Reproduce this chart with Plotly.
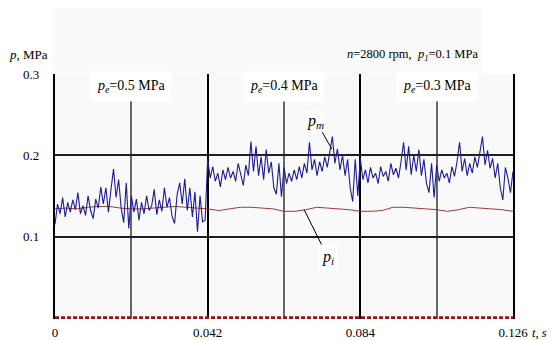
import numpy as np
import plotly.graph_objects as go

# ---------------- data ----------------
T_STEP_PM = 0.0007   # sampling step of p_m trace (s)
T_STEP_PI = 0.003    # sampling step of p_i trace (s)

p_m = [
    # 0 .. 0.042 s  (p_e = 0.5 MPa)
    0.115, 0.140, 0.128, 0.148, 0.124, 0.142, 0.130, 0.145, 0.133, 0.154,
    0.128, 0.138, 0.126, 0.150, 0.132, 0.122, 0.146, 0.135, 0.161, 0.140,
    0.160, 0.130, 0.158, 0.183, 0.148, 0.170, 0.135, 0.117, 0.166, 0.110,
    0.150, 0.130, 0.146, 0.120, 0.142, 0.128, 0.150, 0.132, 0.138, 0.158,
    0.127, 0.145, 0.131, 0.160, 0.136, 0.148, 0.125, 0.116, 0.152, 0.166,
    0.140, 0.171, 0.132, 0.160, 0.124, 0.155, 0.106, 0.150, 0.118, 0.120,
    # 0.042 .. 0.084 s  (p_e = 0.4 MPa)
    0.195, 0.172, 0.186, 0.168, 0.178, 0.161, 0.182, 0.170, 0.185, 0.172,
    0.180, 0.168, 0.190, 0.175, 0.163, 0.188, 0.175, 0.217, 0.180, 0.211,
    0.175, 0.198, 0.170, 0.207, 0.178, 0.192, 0.160, 0.152, 0.190, 0.149,
    0.185, 0.165, 0.178, 0.168, 0.182, 0.170, 0.186, 0.172, 0.190, 0.178,
    0.216, 0.182, 0.195, 0.175, 0.192, 0.180, 0.198, 0.185, 0.205, 0.223,
    0.190, 0.208, 0.182, 0.200, 0.175, 0.195, 0.160, 0.143, 0.195, 0.150,
    # 0.084 .. 0.126 s  (p_e = 0.3 MPa)
    0.196, 0.170, 0.182, 0.166, 0.185, 0.172, 0.178, 0.165, 0.186, 0.174,
    0.180, 0.168, 0.190, 0.176, 0.184, 0.172, 0.192, 0.216, 0.182, 0.211,
    0.176, 0.200, 0.180, 0.207, 0.175, 0.195, 0.165, 0.154, 0.190, 0.148,
    0.188, 0.168, 0.182, 0.172, 0.178, 0.166, 0.186, 0.174, 0.192, 0.216,
    0.180, 0.196, 0.175, 0.190, 0.178, 0.198, 0.185, 0.205, 0.223, 0.188,
    0.206, 0.184, 0.196, 0.172, 0.190, 0.160, 0.145, 0.185, 0.172, 0.154,
    0.180,
]

p_i = [
    0.134, 0.135, 0.134, 0.136, 0.137, 0.137, 0.135, 0.134, 0.134, 0.135,
    0.136, 0.137, 0.136, 0.135, 0.134,
    0.132, 0.134, 0.136, 0.136, 0.135, 0.134, 0.131, 0.131, 0.133, 0.136,
    0.135, 0.134, 0.133, 0.131,
    0.131, 0.132, 0.136, 0.136, 0.135, 0.134, 0.133, 0.131, 0.133, 0.136,
    0.135, 0.134, 0.133, 0.131,
]

p_base = [0.0, 0.0]          # dashed reference line at p = 0
t_base = [0.0, 0.126]

x_ticks = [0, 0.042, 0.084, 0.126]
x_tick_labels = ["0", "0.042", "0.084", "0.126"]
x_minor = [0.021, 0.063, 0.105]
y_ticks = [0.1, 0.2, 0.3]
y_tick_labels = ["0.1", "0.2", "0.3"]

sections = [(0.021, "0.5"), (0.063, "0.4"), (0.105, "0.3")]

t_m = np.arange(len(p_m)) * T_STEP_PM
t_i = np.arange(len(p_i)) * T_STEP_PI

FONT = "'Liberation Serif', 'Times New Roman', serif"

fig = go.Figure()
fig.add_trace(go.Scatter(x=t_base, y=p_base, mode="lines",
                         line=dict(color="#a01010", width=3, dash="4px,2px"),
                         hoverinfo="skip"))
fig.add_trace(go.Scatter(x=t_i, y=p_i, mode="lines",
                         line=dict(color="#a03a3a", width=1)))
fig.add_trace(go.Scatter(x=t_m, y=p_m, mode="lines",
                         line=dict(color="#1c1c96", width=1.1)))

# page body has an 8px default margin -> figure is 548x332 placed at (8,8)
fig.update_layout(
    width=548, height=332,
    margin=dict(l=47, r=43, t=66, b=21),
    paper_bgcolor="white",
    plot_bgcolor="#f9f9f9",
    showlegend=False,
    font=dict(family=FONT, size=13, color="black"),
)

fig.update_xaxes(
    range=[0, 0.126],
    tickvals=x_ticks, ticktext=x_tick_labels,
    showgrid=True, gridcolor="black", gridwidth=1.5,
    minor=dict(tickvals=x_minor, showgrid=True, gridcolor="#666666", gridwidth=1.5),
    zeroline=False, showline=False, ticks="", ticklabelstandoff=4,
    automargin=False,
    tickfont=dict(family=FONT, size=13),
)
fig.update_yaxes(
    range=[-0.0015, 0.3],
    tickvals=y_ticks, showticklabels=False,
    showgrid=True, gridcolor="#202020", gridwidth=1.5,
    zeroline=False, showline=True, linecolor="black", linewidth=1.5, mirror=True,
    ticks="", automargin=False,
)

# faint panel above the plot
fig.add_shape(type="rect", xref="paper", yref="paper",
              x0=-0.006, x1=0.934, y0=1.0, y1=1.35,
              fillcolor="#fafafa", line=dict(width=0), layer="below")

anns = []
# y tick labels placed to the left of the axis
for yv, lab in zip(y_ticks, y_tick_labels):
    anns.append(dict(x=-0.030, y=yv, xref="paper", yref="y", xanchor="right",
                     yanchor="middle", text=lab, showarrow=False,
                     font=dict(family=FONT, size=13)))

for xc, val in sections:
    anns.append(dict(x=xc, y=0.2845, xref="x", yref="y",
                     text=f"<i>p<sub>e</sub></i>={val} MPa",
                     showarrow=False, bgcolor="white", borderpad=6,
                     font=dict(family=FONT, size=14)))

anns += [
    dict(x=-0.012, y=1.12, xref="paper", yref="paper", xanchor="right",
         text="<i>p</i>, MPa", showarrow=False, font=dict(family=FONT, size=13)),
    dict(x=0.928, y=1.12, xref="paper", yref="paper", xanchor="right",
         text="<i>n</i>=2800 rpm,  <i>p<sub>1</sub></i>=0.1 MPa", showarrow=False,
         font=dict(family=FONT, size=12.5)),
    dict(x=1.038, y=-0.057, xref="paper", yref="paper", xanchor="left", yanchor="middle",
         text="<i>t</i>, <i>s</i>", showarrow=False, font=dict(family=FONT, size=12.5)),
    dict(x=0.0762, y=0.2074, xref="x", yref="y",
         text="<i>p<sub>m</sub></i>", showarrow=True, arrowhead=0, arrowwidth=1,
         arrowcolor="black", ax=-16, ay=-28, bgcolor="white",
         font=dict(family=FONT, size=16)),
    dict(x=0.0685, y=0.1333, xref="x", yref="y",
         text="<i>p<sub>i</sub></i>", showarrow=True, arrowhead=0, arrowwidth=1,
         arrowcolor="black", ax=24, ay=48, bgcolor="white", borderpad=3,
         font=dict(family=FONT, size=16)),
]
fig.update_layout(annotations=anns)

fig.write_html("out.html")
